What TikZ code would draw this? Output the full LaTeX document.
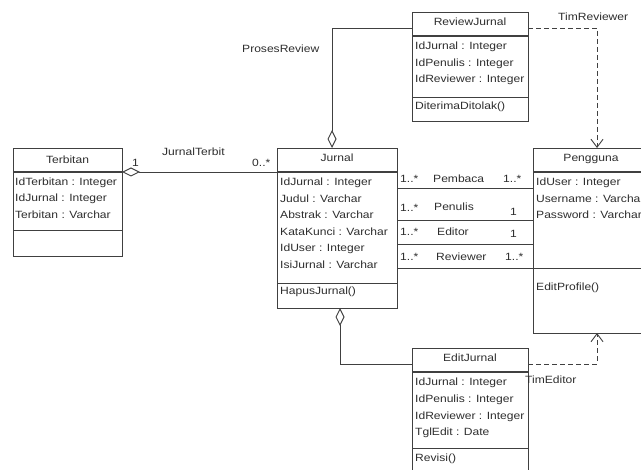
\documentclass[tikz,border=0pt]{standalone}
\usepackage{fontspec}
\setmainfont{Liberation Sans}[FakeStretch=1.15]
\usetikzlibrary{arrows.meta,calc}
\definecolor{ln}{HTML}{404040}
\definecolor{tx}{HTML}{2E2E2E}
\newcommand\umlfont{\fontsize{10.5}{12}\selectfont}
\begin{document}
\begin{tikzpicture}[x=1pt,y=-1pt,
  box/.style={draw=ln, line width=0.9pt, anchor=north west, inner sep=0pt, outer sep=0pt},
  head/.style={anchor=north west, inner sep=0pt, outer sep=0pt, minimum height=24pt},
  txt/.style={anchor=base west, inner sep=0pt, font=\umlfont, text=tx},
  ctxt/.style={anchor=base, inner sep=0pt, font=\umlfont, text=tx},
  sep/.style={draw=ln, line width=0.9pt},
  hsep/.style={draw=ln, line width=1.5pt},
  assoc/.style={draw=ln, line width=0.9pt},
  aggr/.style={draw=ln, line width=0.9pt, -{Diamond[open, length=18pt, width=9pt]}},
  dep/.style={draw=ln, line width=0.9pt, dash pattern=on 5pt off 3pt, -{Straight Barb[length=8pt, width=12pt]}}
]
\useasboundingbox (0,0) rectangle (641,470);
\clip (0,0) rectangle (641,470);
\fill[white] (0,0) rectangle (641,470);

% ---------- Terbitan ----------
\node[box, minimum width=109pt, minimum height=108pt] (terb) at (13,148) {};
\node[head, minimum width=109pt] (terbh) at (13,148) {};
\draw[hsep] (terbh.south west) -- (terbh.south east);
\draw[sep] ($(terb.north west)+(0,82)$) -- ($(terb.north east)+(0,82)$);
\node[ctxt] (terbt) at (67.5,164) {Terbitan};
\node[txt] (terba1) at (15,186) {IdTerbitan : Integer};
\node[txt] (terba2) at (15,202) {IdJurnal : Integer};
\node[txt] (terba3) at (15,219) {Terbitan : Varchar};

% ---------- Jurnal ----------
\node[box, minimum width=120pt, minimum height=160pt] (jurn) at (277,148) {};
\node[head, minimum width=120pt] (jurnh) at (277,148) {};
\draw[hsep] (jurnh.south west) -- (jurnh.south east);
\draw[sep] ($(jurn.north west)+(0,135)$) -- ($(jurn.north east)+(0,135)$);
\node[ctxt] (jurnt) at (337,162) {Jurnal};
\node[txt] (jurna1) at (280,186) {IdJurnal : Integer};
\node[txt] (jurna2) at (280,203) {Judul : Varchar};
\node[txt] (jurna3) at (280,219) {Abstrak : Varchar};
\node[txt] (jurna4) at (280,236) {KataKunci : Varchar};
\node[txt] (jurna5) at (280,252) {IdUser : Integer};
\node[txt] (jurna6) at (280,269) {IsiJurnal : Varchar};
\node[txt] (jurnm1) at (280,295) {HapusJurnal()};

% ---------- Pengguna ----------
\node[box, minimum width=116pt, minimum height=185pt] (peng) at (533,148) {};
\node[head, minimum width=116pt] (pengh) at (533,148) {};
\draw[hsep] (pengh.south west) -- (pengh.south east);
\draw[sep] ($(peng.north west)+(0,120)$) -- ($(peng.north east)+(0,120)$);
\node[ctxt] (pengt) at (591,162) {Pengguna};
\node[txt] (penga1) at (536,186) {IdUser : Integer};
\node[txt] (penga2) at (536,203) {Username : Varchar};
\node[txt] (penga3) at (536,219) {Password : Varchar};
\node[txt] (pengm1) at (536,291) {EditProfile()};

% ---------- ReviewJurnal ----------
\node[box, minimum width=116pt, minimum height=109pt] (rev) at (412,12) {};
\node[head, minimum width=116pt] (revh) at (412,12) {};
\draw[hsep] (revh.south west) -- (revh.south east);
\draw[sep] ($(rev.north west)+(0,85)$) -- ($(rev.north east)+(0,85)$);
\node[ctxt] (revt) at (470,26) {ReviewJurnal};
\node[txt] (reva1) at (415,50) {IdJurnal : Integer};
\node[txt] (reva2) at (415,67) {IdPenulis : Integer};
\node[txt] (reva3) at (415,83) {IdReviewer : Integer};
\node[txt] (revm1) at (415,110) {DiterimaDitolak()};

% ---------- EditJurnal ----------
\node[box, minimum width=116pt, minimum height=135pt] (edit) at (412,348) {};
\node[head, minimum width=116pt] (edith) at (412,348) {};
\draw[hsep] (edith.south west) -- (edith.south east);
\draw[sep] ($(edit.north west)+(0,100)$) -- ($(edit.north east)+(0,100)$);
\node[ctxt] (editt) at (470,362) {EditJurnal};
\node[txt] (edita1) at (415,386) {IdJurnal : Integer};
\node[txt] (edita2) at (415,403) {IdPenulis : Integer};
\node[txt] (edita3) at (415,420) {IdReviewer : Integer};
\node[txt] (edita4) at (415,436) {TglEdit : Date};
\node[txt] (editm1) at (415,462) {Revisi()};

% ---------- connectors ----------
\coordinate (jtop) at ($(jurn.north west)+(55,0)$);
\coordinate (jbot) at ($(jurn.south west)+(63,0)$);
\coordinate (ptop) at ($(peng.north west)+(64,0)$);
\coordinate (pbot) at ($(peng.south west)+(64,0)$);

\draw[aggr] (jurnh.south west) -- (terbh.south east);
\draw[aggr] ($(revh.west)+(0,4)$) -| (jtop);
\draw[aggr] ($(edith.west)+(0,4)$) -| (jbot);
\draw[dep] ($(revh.east)+(0,4)$) -| (ptop);
\draw[dep] ($(edith.east)+(0,4)$) -| (pbot);

\coordinate (r1) at (0,188);
\coordinate (r2) at (0,220);
\coordinate (r3) at (0,244);
\coordinate (r4) at (0,268);
\draw[assoc] (jurn.east |- r1) -- (peng.west |- r1);
\draw[assoc] (jurn.east |- r2) -- (peng.west |- r2);
\draw[assoc] (jurn.east |- r3) -- (peng.west |- r3);
\draw[assoc] (jurn.east |- r4) -- (peng.west |- r4);

% ---------- labels ----------
\node[txt] (lJT) at (162,156) {JurnalTerbit};
\node[txt] (lJT1) at (132,167) {1};
\node[txt] (lJT2) at (252,167) {0..*};
\node[txt] (lPR) at (242,53) {ProsesReview};
\node[txt] (lTR) at (558,21) {TimReviewer};
\node[txt] (lTE) at (525,384) {TimEditor};

\node[txt] (m1a) at (400,183) {1..*};
\node[txt] (m1r) at (433,183) {Pembaca};
\node[txt] (m1b) at (503,183) {1..*};
\node[txt] (m2a) at (400,212) {1..*};
\node[txt] (m2r) at (434,211) {Penulis};
\node[txt] (m2b) at (510,216) {1};
\node[txt] (m3a) at (400,236) {1..*};
\node[txt] (m3r) at (437,236) {Editor};
\node[txt] (m3b) at (510,238) {1};
\node[txt] (m4a) at (400,261) {1..*};
\node[txt] (m4r) at (436,261) {Reviewer};
\node[txt] (m4b) at (505,261) {1..*};
\end{tikzpicture}
\end{document}
